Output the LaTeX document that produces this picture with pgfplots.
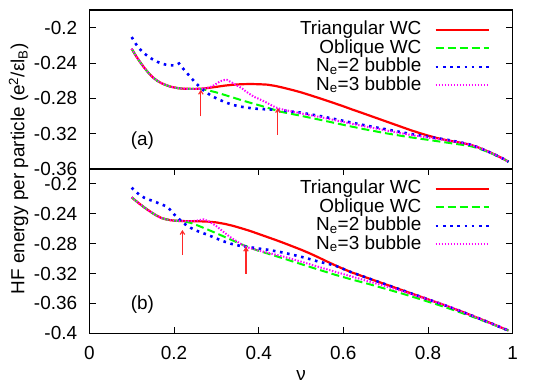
\documentclass[border=0pt]{standalone}
\usepackage{fontspec}
\setmainfont{Liberation Sans}
\usepackage{pgfplots}
\pgfplotsset{compat=1.18}
\usetikzlibrary{arrows.meta}
\newcommand{\fs}{\fontsize{19}{22}\selectfont}
\definecolor{cR}{RGB}{255,0,0}
\definecolor{cG}{RGB}{0,255,0}
\definecolor{cB}{RGB}{0,0,255}
\definecolor{cM}{RGB}{255,0,255}
\definecolor{cA}{RGB}{255,40,40}
\pgfplotsset{
  hf/.style={
    scale only axis, width=423.4bp, xmin=0, xmax=1,
    tick align=inside, major tick length=6.5bp,
    axis line style={line width=1.1bp},
    every tick/.style={black, line width=0.9bp},
    font=\fs,
    yticklabel style={inner sep=0pt, xshift=-12bp, font=\fs},
    xticklabel style={inner sep=0pt, yshift=-13bp, font=\fs},
    legend plot pos=right,
    legend cell align=right,
    legend image code/.code={\draw[##1] (0bp,0bp) -- (53bp,0bp);},
    legend style={draw=none, fill=none, anchor=north east, font=\fs,
      inner xsep=0pt, inner ysep=0pt, outer sep=0pt,
      column sep=13bp, row sep=0bp,
      nodes={inner sep=0pt, outer sep=0pt, text height=14bp, text depth=4.5bp}},
  },
  sR/.style={cR, line width=2.2bp, line join=round},
  sG/.style={cG, line width=2.0bp, dash pattern=on 8bp off 4bp},
  sB/.style={cB, line width=2.6bp, dash pattern=on 2.6bp off 4.6bp},
  sM/.style={cM, line width=2.0bp, dash pattern=on 1.4bp off 1.6bp},
  sA/.style={color=cA, solid, line width=1.1bp, forget plot, -{Straight Barb[length=3.5bp,width=4.5bp]}},
}
\begin{document}
\begin{tikzpicture}
% ---------------- top panel (a)
\begin{axis}[hf, at={(0,164.3bp)}, height=159bp,
  ymin=-0.36, ymax=-0.18, xtick=\empty,
  ytick={-0.36,-0.32,-0.28,-0.24,-0.2},
  yticklabels={-0.36,-0.32,-0.28,-0.24,-0.2},
  legend style={at={(0.9464,0.933)}}]
\addplot[sR] coordinates {(0.10,-0.2238)(0.11,-0.2318)(0.12,-0.2390)(0.13,-0.2455)(0.14,-0.2513)(0.15,-0.2562)(0.16,-0.2600)(0.17,-0.2628)(0.18,-0.2648)(0.19,-0.2665)(0.20,-0.2677)(0.21,-0.2685)(0.22,-0.2690)(0.23,-0.2692)(0.24,-0.2693)(0.25,-0.2693)(0.26,-0.2692)
 (0.27,-0.2689)(0.28,-0.2683)(0.30,-0.2670)(0.32,-0.2656)(0.34,-0.2646)(0.36,-0.2640)(0.38,-0.2638)(0.40,-0.2640)(0.42,-0.2645)(0.44,-0.2660)(0.46,-0.2682)(0.48,-0.2706)(0.50,-0.2732)(0.52,-0.2762)(0.54,-0.2793)(0.56,-0.2825)(0.58,-0.2857)(0.60,-0.2890)(0.62,-0.2925)(0.64,-0.2958)(0.66,-0.2992)(0.68,-0.3026)(0.70,-0.3060)(0.72,-0.3094)(0.74,-0.3128)(0.76,-0.3162)(0.78,-0.3193)(0.80,-0.3222)(0.82,-0.3248)(0.84,-0.3270)(0.86,-0.3288)(0.88,-0.3305)(0.90,-0.3325)(0.92,-0.3358)(0.94,-0.3398)(0.96,-0.3442)(0.98,-0.3490)(0.99,-0.3518)};
\addlegendentry{Triangular WC}
\addplot[sG] coordinates {(0.10,-0.2238)(0.11,-0.2318)(0.12,-0.2390)(0.13,-0.2455)(0.14,-0.2513)(0.15,-0.2562)(0.16,-0.2600)(0.17,-0.2628)(0.18,-0.2648)(0.19,-0.2665)(0.20,-0.2677)(0.21,-0.2685)(0.22,-0.2690)(0.23,-0.2692)(0.24,-0.2693)(0.25,-0.2693)(0.26,-0.2692)
 (0.28,-0.2708)(0.30,-0.2733)(0.32,-0.2762)(0.34,-0.2792)(0.36,-0.2822)(0.38,-0.2850)(0.40,-0.2877)(0.42,-0.2905)(0.45,-0.2950)(0.50,-0.2998)(0.55,-0.3048)(0.60,-0.3100)(0.65,-0.3150)(0.70,-0.3195)(0.75,-0.3235)(0.80,-0.3270)(0.85,-0.3305)(0.90,-0.3340)(0.92,-0.3368)(0.94,-0.3404)(0.96,-0.3444)(0.98,-0.3490)(0.99,-0.3518)};
\addlegendentry{Oblique WC}
\addplot[sB] coordinates {(0.10,-0.2106)(0.11,-0.2185)(0.12,-0.2245)(0.13,-0.2292)(0.14,-0.2330)(0.15,-0.2360)(0.16,-0.2385)(0.17,-0.2405)(0.18,-0.2418)(0.19,-0.2425)(0.20,-0.2428)(0.205,-0.2422)(0.212,-0.2405)(0.22,-0.2455)(0.23,-0.2510)(0.24,-0.2565)(0.25,-0.2620)(0.26,-0.2668)(0.27,-0.2710)(0.28,-0.2745)(0.29,-0.2775)(0.30,-0.2800)(0.32,-0.2843)(0.34,-0.2876)(0.36,-0.2896)(0.38,-0.2910)(0.40,-0.2920)(0.44,-0.2930)(0.50,-0.2962)(0.55,-0.3005)(0.60,-0.3055)(0.65,-0.3105)(0.70,-0.3150)(0.75,-0.3195)(0.80,-0.3235)(0.84,-0.3265)(0.86,-0.3283)(0.88,-0.3302)(0.90,-0.3325)(0.92,-0.3358)(0.94,-0.3398)(0.96,-0.3442)(0.98,-0.3490)(0.99,-0.3518)};
\addlegendentry{N\textsubscript{e}=2 bubble}
\addplot[sM] coordinates {(0.10,-0.2238)(0.11,-0.2318)(0.12,-0.2390)(0.13,-0.2455)(0.14,-0.2513)(0.15,-0.2562)(0.16,-0.2600)(0.17,-0.2628)(0.18,-0.2648)(0.19,-0.2665)(0.20,-0.2677)(0.21,-0.2685)(0.22,-0.2690)(0.23,-0.2692)(0.24,-0.2693)(0.25,-0.2693)(0.26,-0.2692)(0.27,-0.2690)
 (0.28,-0.2680)(0.29,-0.2665)(0.30,-0.2635)(0.31,-0.2605)(0.32,-0.2592)(0.325,-0.2590)(0.33,-0.2605)(0.34,-0.2630)(0.35,-0.2658)(0.36,-0.2685)(0.37,-0.2722)(0.38,-0.2755)(0.39,-0.2785)(0.40,-0.2805)(0.41,-0.2828)(0.42,-0.2852)(0.43,-0.2878)(0.44,-0.2902)(0.45,-0.2918)(0.46,-0.2930)(0.48,-0.2950)(0.50,-0.2970)(0.55,-0.3017)(0.60,-0.3067)(0.65,-0.3117)(0.70,-0.3162)(0.75,-0.3207)(0.80,-0.3245)(0.84,-0.3272)(0.86,-0.3287)(0.88,-0.3304)(0.90,-0.3325)(0.92,-0.3358)(0.94,-0.3398)(0.96,-0.3442)(0.98,-0.3490)(0.99,-0.3518)};
\addlegendentry{N\textsubscript{e}=3 bubble}
\addplot[sA] coordinates {(0.2635,-0.3005)(0.2635,-0.2703)};
\addplot[sA] coordinates {(0.4455,-0.3213)(0.4455,-0.2910)};
\node at (axis cs:0.1256,-0.3275) {(a)};
\end{axis}
% ---------------- bottom panel (b)
\begin{axis}[hf, at={(0,0)}, height=164.3bp,
  ymin=-0.4, ymax=-0.18,
  xtick={0,0.2,0.4,0.6,0.8,1}, xticklabels={0,0.2,0.4,0.6,0.8,1},
  ytick={-0.4,-0.36,-0.32,-0.28,-0.24,-0.2},
  yticklabels={-0.4,-0.36,-0.32,-0.28,-0.24,-0.2},
  xlabel={ν},
  xlabel style={at={(axis description cs:0.5,0)}, anchor=center, yshift=-42bp, font=\fs},
  ylabel={HF energy per particle (e\textsuperscript{2}/εl\textsubscript{B})},
  ylabel style={at={(axis description cs:-0.167,1.0)}, anchor=center, rotate=0, font=\fs},
  legend style={at={(0.9464,0.935)}}]
\addplot[sR] coordinates {(0.10,-0.2179)(0.11,-0.2227)(0.12,-0.2272)(0.13,-0.2315)(0.14,-0.2355)(0.15,-0.2393)(0.16,-0.2427)(0.17,-0.2455)(0.18,-0.2472)(0.19,-0.2484)(0.20,-0.2491)(0.21,-0.2495)(0.22,-0.2497)
 (0.24,-0.2500)(0.26,-0.2500)(0.28,-0.2505)(0.30,-0.2515)(0.32,-0.2535)(0.34,-0.2562)(0.36,-0.2595)(0.38,-0.2630)(0.40,-0.2670)(0.42,-0.2710)(0.44,-0.2750)(0.46,-0.2792)(0.48,-0.2836)(0.50,-0.2880)(0.52,-0.2928)(0.54,-0.2980)(0.56,-0.3035)(0.58,-0.3088)(0.60,-0.3138)(0.62,-0.3185)(0.64,-0.3225)(0.66,-0.3265)(0.68,-0.3305)(0.70,-0.3345)(0.72,-0.3385)(0.74,-0.3425)(0.76,-0.3465)(0.78,-0.3505)(0.80,-0.3545)(0.82,-0.3585)(0.84,-0.3625)(0.86,-0.3668)(0.88,-0.3710)(0.90,-0.3755)(0.92,-0.3800)(0.94,-0.3845)(0.96,-0.3892)(0.98,-0.3940)(0.99,-0.3962)};
\addlegendentry{Triangular WC}
\addplot[sG] coordinates {(0.10,-0.2179)(0.11,-0.2227)(0.12,-0.2272)(0.13,-0.2315)(0.14,-0.2355)(0.15,-0.2393)(0.16,-0.2427)(0.17,-0.2455)(0.18,-0.2472)(0.19,-0.2484)(0.20,-0.2491)(0.21,-0.2495)(0.22,-0.2497)
 (0.24,-0.2522)(0.26,-0.2565)(0.28,-0.2612)(0.30,-0.2660)(0.32,-0.2710)(0.34,-0.2760)(0.36,-0.2810)(0.38,-0.2855)(0.40,-0.2895)(0.42,-0.2930)(0.44,-0.2965)(0.46,-0.3000)(0.48,-0.3037)(0.50,-0.3073)(0.54,-0.3145)(0.58,-0.3215)(0.62,-0.3280)(0.66,-0.3340)(0.70,-0.3405)(0.74,-0.3470)(0.78,-0.3540)(0.82,-0.3612)(0.86,-0.3688)(0.90,-0.3768)(0.94,-0.3853)(0.96,-0.3897)(0.98,-0.3942)(0.99,-0.3962)};
\addlegendentry{Oblique WC}
\addplot[sB] coordinates {(0.10,-0.2050)(0.11,-0.2105)(0.12,-0.2152)(0.13,-0.2185)(0.14,-0.2208)(0.15,-0.2228)(0.16,-0.2250)(0.17,-0.2272)(0.18,-0.2296)(0.19,-0.2340)(0.20,-0.2405)(0.21,-0.2460)(0.22,-0.2515)(0.23,-0.2555)(0.24,-0.2590)(0.25,-0.2617)(0.26,-0.2642)(0.28,-0.2682)(0.30,-0.2730)(0.32,-0.2774)(0.34,-0.2810)(0.36,-0.2833)(0.38,-0.2848)(0.40,-0.2865)(0.42,-0.2880)(0.44,-0.2900)(0.46,-0.2922)(0.48,-0.2948)(0.50,-0.2975)(0.52,-0.3005)(0.54,-0.3038)(0.56,-0.3065)(0.58,-0.3092)(0.60,-0.3138)(0.62,-0.3185)(0.64,-0.3225)(0.66,-0.3265)(0.68,-0.3305)(0.70,-0.3345)(0.72,-0.3385)(0.74,-0.3425)(0.76,-0.3465)(0.78,-0.3505)(0.80,-0.3545)(0.82,-0.3585)(0.84,-0.3625)(0.86,-0.3668)(0.88,-0.3710)(0.90,-0.3755)(0.92,-0.3800)(0.94,-0.3845)(0.96,-0.3892)(0.98,-0.3940)(0.99,-0.3962)};
\addlegendentry{N\textsubscript{e}=2 bubble}
\addplot[sM] coordinates {(0.10,-0.2179)(0.11,-0.2227)(0.12,-0.2272)(0.13,-0.2315)(0.14,-0.2355)(0.15,-0.2393)(0.16,-0.2427)(0.17,-0.2455)(0.18,-0.2472)(0.19,-0.2484)(0.20,-0.2491)(0.21,-0.2495)(0.22,-0.2497)
 (0.23,-0.2498)(0.24,-0.2498)(0.25,-0.2495)(0.26,-0.2485)(0.27,-0.2475)(0.28,-0.2495)(0.29,-0.2527)(0.30,-0.2565)(0.31,-0.2610)(0.32,-0.2655)(0.33,-0.2700)(0.34,-0.2738)(0.35,-0.2775)(0.36,-0.2810)(0.37,-0.2842)(0.38,-0.2860)(0.40,-0.2892)(0.42,-0.2918)(0.44,-0.2947)(0.46,-0.2975)(0.50,-0.3040)(0.54,-0.3108)(0.58,-0.3175)(0.62,-0.3240)(0.66,-0.3305)(0.70,-0.3370)(0.74,-0.3438)(0.78,-0.3510)(0.82,-0.3585)(0.86,-0.3664)(0.90,-0.3755)(0.94,-0.3848)(0.96,-0.3893)(0.98,-0.3940)(0.99,-0.3962)};
\addlegendentry{N\textsubscript{e}=3 bubble}
\addplot[sA] coordinates {(0.22,-0.2953)(0.22,-0.2617)};
\addplot[sA] coordinates {(0.37,-0.3200)(0.37,-0.2841)};
\node at (axis cs:0.1256,-0.361) {(b)};
\end{axis}
\pgfresetboundingbox
\path[use as bounding box] (-89.3bp,-56.7bp) rectangle (455.7bp,333.3bp);
\end{tikzpicture}
\end{document}
